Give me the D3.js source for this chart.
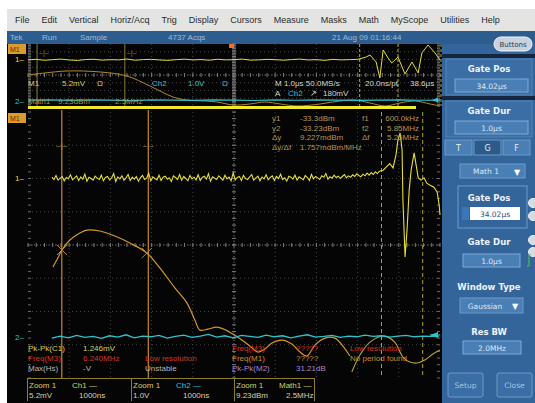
<!DOCTYPE html>
<html>
<head>
<meta charset="utf-8">
<script src="https://cdn.jsdelivr.net/npm/d3@7"></script>
<style>
  html, body { margin: 0; padding: 0; background: #ffffff; }
  svg { display: block; font-family: "Liberation Sans", Arial, sans-serif; }
</style>
</head>
<body>
<svg id="scope" width="535" height="403"></svg>
<script>
// ---------------- data ----------------
const menuItems = ["File", "Edit", "Vertical", "Horiz/Acq", "Trig", "Display", "Cursors",
                   "Measure", "Masks", "Math", "MyScope", "Utilities", "Help"];

// spectrum window: Ch1 trace (divisions), sampled every 0.125 MHz from 0 MHz
const ch1SpecStepMHz = 0.125;
const ch1Spec = [
  2.04,1.97,2.09,1.95,2.01,2.06,1.93,2.03,1.99,2.11,
  1.96,2.02,2.08,1.94,2.05,1.98,2.13,1.92,2.04,2.00,
  1.95,2.07,2.01,1.97,2.10,1.93,2.03,2.06,1.96,2.02,
  2.15,1.91,2.05,1.99,2.08,1.95,2.02,2.12,1.94,2.04,
  1.98,2.06,1.92,2.03,2.09,1.97,2.01,2.16,1.93,2.05,
  2.00,1.96,2.10,1.94,2.04,2.07,1.98,2.02,1.91,2.08,
  2.03,1.97,2.12,1.95,2.06,2.00,1.93,2.09,1.99,2.04,
  1.96,2.11,1.94,2.03,2.07,1.98,2.14,1.92,2.05,2.01,
  1.97,2.08,2.02,1.95,2.10,1.99,2.04,1.93,2.17,1.96,
  2.03,2.06,1.94,2.09,2.00,1.97,2.05,2.12,1.95,2.02,
  2.07,1.93,2.04,1.99,2.11,1.96,2.03,2.08,1.94,2.06,
  2.00,2.13,1.97,2.02,1.92,2.07,2.04,1.98,2.10,1.95,
  2.05,2.01,1.96,2.09,2.03,1.94,2.12,1.99,2.06,2.02,
  1.97,2.08,2.04,2.15,1.98,2.05,2.01,2.10,2.03,2.07,
  2.00,2.06,2.12,2.02,2.08,2.04,2.11,2.06,2.14,2.09,
  2.05,2.13,2.08,2.16,2.10,2.18,2.12,2.20,2.15,2.22
];
// Ch1 spectral features near the right edge: [MHz, div]
const ch1SpecTail = [
  [20.1,2.25],[20.3,2.35],[20.5,2.45],[20.7,2.32],[20.88,2.71],[21.0,3.16],[21.13,3.37],
  [21.25,2.86],[21.3,1.35],[21.43,-0.36],[21.55,0.45],[21.68,1.65],[21.8,2.26],[21.98,2.77],
  [22.1,2.41],[22.23,2.02],[22.4,1.95],[22.58,2.02],[22.75,1.86],[22.95,1.80],[23.18,1.74],
  [23.38,1.59],[23.5,1.2],[23.55,0.9]
];
// Math trace (orange) in the spectrum window: [MHz, div]
const mathSpec = [
  [0.06,-0.66],[0.36,-0.39],[0.61,-0.15],[1.09,0.15],[1.70,0.36],[2.12,0.45],[2.91,0.42],
  [3.82,0.27],[4.73,0.06],[5.76,-0.24],[6.55,-0.69],[7.46,-1.29],[8.19,-1.74],[8.68,-2.26],
  [8.98,-2.56],[9.47,-2.53],[10.01,-2.47],[10.56,-2.56],[10.98,-2.68],[11.53,-2.86],
  [12.01,-3.04],[12.50,-3.22],[12.92,-3.13],[13.35,-2.95],[13.96,-2.86],[14.56,-2.98],
  [15.05,-3.22],[15.47,-3.34],[15.96,-3.01],[16.57,-2.80],[17.17,-2.80],[17.66,-3.04],
  [18.08,-3.34]
];
// second lobe group of the math trace
const mathSpecLobe = [
  [18.2,-3.82],[18.69,-3.31],[19.3,-2.92],[20.2,-2.74],[20.8,-2.92],[21.3,-3.37],
  [21.72,-3.52],[22.15,-3.55],[22.63,-3.46],[23.12,-3.28],[23.54,-3.16]
];
// Ch2 in the spectrum window, every 0.5 MHz from 0 MHz
const ch2SpecStepMHz = 0.5;
const ch2Spec = [
  -2.80,-2.74,-2.79,-2.72,-2.78,-2.75,-2.81,-2.73,-2.77,-2.70,
  -2.79,-2.74,-2.76,-2.72,-2.80,-2.75,-2.71,-2.78,-2.74,-2.69,
  -2.77,-2.73,-2.79,-2.72,-2.75,-2.78,-2.71,-2.76,-2.73,-2.79,
  -2.74,-2.70,-2.77,-2.75,-2.72,-2.78,-2.74,-2.76,-2.71,-2.75,
  -2.73,-2.77,-2.74,-2.72,-2.76,-2.74,-2.75,-2.74
];

// overview window (time domain, divisions): Ch1 every 0.2 div from 0
const ch1TimeStep = 0.2;
const ch1Time = [
  1.95,2.02,1.90,1.98,2.05,1.94,1.88,1.99,2.03,1.92,1.98,1.95,2.06,1.91,1.99,2.02,1.94,1.89,1.98,2.04,
  1.95,1.99,1.91,2.03,1.95,1.98,2.05,1.92,1.95,2.02,1.98,1.91,1.99,2.05,1.94,1.98,1.89,2.02,1.95,1.98,2.02
];
const ch1TimeTail = [
  [8.2,2.3],[8.3,2.58],[8.45,1.68],[8.54,-0.39],[8.62,3.23],[8.74,2.19],[8.83,1.55],
  [8.98,2.32],[9.15,0.13],[9.32,1.68],[9.47,0.26],[9.56,2.84],[9.71,3.87],[9.88,2.84],[10,1.94]
];
const mathTime = [
  [0,0],[0.41,0.26],[0.95,0.52],[1.75,0.39],[2.40,-0.13],[2.96,-1.42],[3.52,-2.84],
  [3.86,-3.23],[4.30,-3.35],[4.59,-3.48],[4.98,-3.87],[5.39,-3.74],[5.75,-3.48],
  [6.12,-3.74],[6.55,-4.0],[7.09,-3.74],[7.57,-3.35],[7.94,-3.23],[8.30,-3.61],
  [8.67,-4.0],[9.03,-3.61],[9.39,-3.35],[9.76,-3.74],[10,-4.0]
];
const ch2TimeStep = 0.5;
const ch2Time = [-3.25,-3.2,-3.28,-3.22,-3.25,-3.3,-3.2,-3.24,-3.27,-3.21,-3.25,
                 -3.29,-3.22,-3.26,-3.2,-3.25,-3.28,-3.23,-3.21,-3.26,-3.24];

// cursors and gate
const cursorFreqMHz = [0.6, 5.85];
const gateMarksMHz = [20.0, 22.5];
const timeMarks = [0.22, 2.35];
const timeGate = [8.05, 8.98];
const cursorRows = [
  ["y1", "-33.3dBm", "f1", "600.0kHz"],
  ["y2", "-33.23dBm", "f2", "5.85MHz"],
  ["\u0394y", "9.227mdBm", "\u0394f", "5.25MHz"],
  ["\u0394y/\u0394f", "1.757mdBm/MHz", "", ""]
];
const measLeft = [
  ["Pk-Pk(C1)", "1.246mV", ""],
  ["Freq(M3)", "6.240MHz", "Low resolution"],
  ["Max(Hs)", "-V", "Unstable"]
];
const measRight = [
  ["Freq(M3)", "?????", "Low resolution"],
  ["Freq(M1)", "?????", "No period found"],
  ["Pk-Pk(M2)", "31.21dB", ""]
];
const zoomBoxes = [
  ["Zoom 1", "Ch1 \u2014", "5.2mV", "1000ns"],
  ["Zoom 1", "Ch2 \u2014", "1.0V", "1000ns"],
  ["Zoom 1", "Math1 \u2014", "9.23dBm", "2.5MHz"]
];

// ---------------- colours ----------------
const C = {
  yellow: "#e6dc3a", orange: "#d6962e", cyan: "#2ec4cc", red: "#d8331f",
  amber: "#c98b22", purple: "#a487d6", grey: "#b8b8b8", grid: "#444444",
  text: "#d9cf5a", dimText: "#b39455"
};

const svg = d3.select("#scope");

// ---------------- frame ----------------
svg.append("rect").attr("width", 535).attr("height", 403).attr("fill", "#ffffff");

// menu bar
svg.append("rect").attr("x", 7).attr("y", 9).attr("width", 528).attr("height", 22).attr("fill", "#e4e4e2");
{
  let mx = 15;
  const g = svg.append("g").attr("font-size", 9).attr("fill", "#2a2a2a");
  menuItems.forEach(m => {
    const t = g.append("text").attr("x", mx).attr("y", 23).text(m);
    mx += t.node().getComputedTextLength() + 12;
  });
}

// status bar
svg.append("rect").attr("x", 7).attr("y", 31).attr("width", 528).attr("height", 13).attr("fill", "#2d5d8f");
const sb = svg.append("g").attr("font-size", 8).attr("fill", "#9fbbd8");
sb.append("text").attr("x", 10).attr("y", 40).text("Tek");
sb.append("text").attr("x", 42).attr("y", 40).text("Run");
sb.append("text").attr("x", 80).attr("y", 40).text("Sample");
sb.append("text").attr("x", 168).attr("y", 40).text("4737 Acqs");
sb.append("text").attr("x", 332).attr("y", 40).text("21 Aug 09 01:16:44");

// black display area
svg.append("rect").attr("x", 7).attr("y", 44).attr("width", 435).attr("height", 359).attr("fill", "#050505");

// ---------------- scales ----------------
const xTime = d3.scaleLinear().domain([0, 10]).range([28, 440]);
const yTime = d3.scaleLinear().domain([-4, 4]).range([106, 44]);
const xFreq = d3.scaleLinear().domain([-1.45, 23.55]).range([28, 440]); // 2.5 MHz/div
const yDiv = d3.scaleLinear().domain([-4, 4]).range([378, 112]);
const xDiv = d3.scaleLinear().domain([0, 10]).range([28, 440]);

// graticule
function graticule(g, xs, ys) {
  const [x0, x1] = xs.range(), [y0, y1] = ys.range();
  const yTop = Math.min(y0, y1), yBot = Math.max(y0, y1);
  d3.range(1, 10).forEach(i => {
    g.append("line").attr("x1", xs(i)).attr("x2", xs(i)).attr("y1", yTop).attr("y2", yBot)
      .attr("stroke", C.grid).attr("stroke-width", 1).attr("stroke-dasharray", "1,3");
  });
  d3.range(-3, 4).forEach(j => {
    g.append("line").attr("x1", x0).attr("x2", x1).attr("y1", ys(j)).attr("y2", ys(j))
      .attr("stroke", C.grid).attr("stroke-width", 1).attr("stroke-dasharray", "1,3");
  });
  // centre cross with minor ticks
  g.append("line").attr("x1", xs(5)).attr("x2", xs(5)).attr("y1", yTop).attr("y2", yBot)
    .attr("stroke", "#6a6a6a").attr("stroke-dasharray", "1,2");
  g.append("line").attr("x1", x0).attr("x2", x1).attr("y1", ys(0)).attr("y2", ys(0))
    .attr("stroke", "#6a6a6a").attr("stroke-dasharray", "1,2");
  d3.range(0, 10.01, 0.2).forEach(v => {
    g.append("line").attr("x1", xs(v)).attr("x2", xs(v)).attr("y1", ys(0) - 2).attr("y2", ys(0) + 2)
      .attr("stroke", "#7a7a7a");
  });
  d3.range(-4, 4.01, 0.2).forEach(v => {
    g.append("line").attr("x1", xs(5) - 2).attr("x2", xs(5) + 2).attr("y1", ys(v)).attr("y2", ys(v))
      .attr("stroke", "#7a7a7a");
    g.append("line").attr("x1", x0).attr("x2", x0 + 3).attr("y1", ys(v)).attr("y2", ys(v))
      .attr("stroke", "#6a6a6a");
    g.append("line").attr("x1", x1 - 3).attr("x2", x1).attr("y1", ys(v)).attr("y2", ys(v))
      .attr("stroke", "#6a6a6a");
  });
}

// ---------------- overview (time) window ----------------
const ovw = svg.append("g");
graticule(ovw, xTime, yTime);

timeMarks.forEach(t => {
  ovw.append("line").attr("x1", xTime(t)).attr("x2", xTime(t)).attr("y1", 44).attr("y2", 106)
    .attr("stroke", "#8a7a2c").attr("stroke-width", 1);
  ovw.append("text").attr("x", xTime(t) + 2).attr("y", 55).attr("font-size", 7)
    .attr("fill", "#8a7a2c").text("\u2013|\u2013");
});
timeGate.forEach(t => {
  ovw.append("line").attr("x1", xTime(t)).attr("x2", xTime(t)).attr("y1", 44).attr("y2", 106)
    .attr("stroke", "#b8ae32").attr("stroke-dasharray", "3,2");
});
ovw.append("line").attr("x1", 441).attr("x2", 441).attr("y1", 44).attr("y2", 106)
  .attr("stroke", "#b8ae32").attr("stroke-dasharray", "3,2");
// trigger position marker
ovw.append("rect").attr("x", xTime(4.88)).attr("y", 44).attr("width", 5).attr("height", 4).attr("fill", "#ff6a2a");

const lineT = d3.line().x(d => xTime(d[0])).y(d => yTime(d[1]));
ovw.append("path")
  .datum(ch1Time.map((v, i) => [i * ch1TimeStep, v]).concat(ch1TimeTail))
  .attr("d", lineT).attr("fill", "none").attr("stroke", C.yellow).attr("stroke-width", 1);
ovw.append("path").datum(mathTime)
  .attr("d", d3.line().x(d => xTime(d[0])).y(d => yTime(d[1])).curve(d3.curveCatmullRom))
  .attr("fill", "none").attr("stroke", "#b9862c").attr("stroke-width", 1);
ovw.append("path")
  .datum(ch2Time.map((v, i) => [i * ch2TimeStep, v]))
  .attr("d", lineT).attr("fill", "none")
  .attr("stroke", C.cyan).attr("stroke-width", 1.2);

// gate / zoom window bar
ovw.append("rect").attr("x", 28).attr("y", 106).attr("width", 388).attr("height", 3).attr("fill", "#f2e82c");

// channel markers
ovw.append("text").attr("x", 15).attr("y", 62).attr("font-size", 8).attr("fill", C.yellow).text("1\u2013");
ovw.append("text").attr("x", 15).attr("y", 104).attr("font-size", 8).attr("fill", C.cyan).text("2\u2013");
ovw.append("path").attr("d", "M432,100 l6,-2.5 v5 z").attr("fill", C.cyan);

// readouts in the overview window
const tr = ovw.append("g").attr("font-size", 8);
tr.append("text").attr("x", 28).attr("y", 86).attr("fill", C.text).text("M1");
tr.append("text").attr("x", 62).attr("y", 86).attr("fill", C.text).text("5.2mV");
tr.append("text").attr("x", 97).attr("y", 86).attr("fill", C.text).text("\u03a9");
tr.append("text").attr("x", 152).attr("y", 86).attr("fill", C.cyan).text("Ch2");
tr.append("text").attr("x", 188).attr("y", 86).attr("fill", C.cyan).text("1.0V");
tr.append("text").attr("x", 222).attr("y", 86).attr("fill", C.cyan).text("\u03a9");
tr.append("text").attr("x", 275).attr("y", 86).attr("fill", "#d8d8c8").text("M 1.0\u03bcs 50.0MS/s");
tr.append("text").attr("x", 365).attr("y", 86).attr("fill", "#d8d8c8").text("20.0ns/pt");
tr.append("text").attr("x", 410).attr("y", 86).attr("fill", "#d8d8c8").text("38.6\u03bcs");
tr.append("text").attr("x", 275).attr("y", 96).attr("fill", "#d8d8c8").text("A");
tr.append("text").attr("x", 288).attr("y", 96).attr("fill", C.cyan).text("Ch2");
tr.append("text").attr("x", 310).attr("y", 96).attr("fill", "#d8d8c8").text("\u2197");
tr.append("text").attr("x", 323).attr("y", 96).attr("fill", "#d8d8c8").text("180mV");
tr.append("text").attr("x", 28).attr("y", 104).attr("fill", "#a89440").text("Math1");
tr.append("text").attr("x", 58).attr("y", 104).attr("fill", "#a89440").text("9.23dBm");
tr.append("text").attr("x", 115).attr("y", 104).attr("fill", "#a89440").text("2.5MHz");

// M1 badge
function badge(y) {
  svg.append("rect").attr("x", 8).attr("y", y).attr("width", 18).attr("height", 10).attr("fill", "#d99a2e");
  svg.append("text").attr("x", 10).attr("y", y + 8).attr("font-size", 7).attr("fill", "#5a2a00").text("M1");
}
badge(44);

// ---------------- spectrum (zoom) window ----------------
const spec = svg.append("g");
graticule(spec, xDiv, yDiv);
badge(113);

// gate marks
gateMarksMHz.forEach(f => {
  spec.append("line").attr("x1", xFreq(f)).attr("x2", xFreq(f)).attr("y1", 112).attr("y2", 378)
    .attr("stroke", "#a9a232").attr("stroke-dasharray", "4,3");
});
// frequency cursors
cursorFreqMHz.forEach(f => {
  spec.append("line").attr("x1", xFreq(f)).attr("x2", xFreq(f)).attr("y1", 110).attr("y2", 378)
    .attr("stroke", "#c48a2a").attr("stroke-width", 1.2);
  spec.append("text").attr("x", xFreq(f)).attr("y", 148).attr("text-anchor", "middle")
    .attr("font-size", 8).attr("fill", "#a88a44").text("\u2013|\u2013");
});

const lineF = d3.line().x(d => xFreq(d[0])).y(d => yDiv(d[1]));
const lineFSmooth = d3.line().x(d => xFreq(d[0])).y(d => yDiv(d[1])).curve(d3.curveCatmullRom);
spec.append("path").datum(mathSpec)
  .attr("d", lineFSmooth).attr("fill", "none")
  .attr("stroke", C.orange).attr("stroke-width", 1.2);
spec.append("path").datum(mathSpecLobe)
  .attr("d", lineFSmooth)
  .attr("fill", "none").attr("stroke", "#b8a236").attr("stroke-width", 1.1);

// cursor crossings on the math trace
[mathSpec[2], mathSpec[9]].forEach(d => {
  const cx = xFreq(d[0]), cy = yDiv(d[1]);
  spec.append("path").attr("d", `M${cx - 5},${cy - 5}L${cx + 5},${cy + 5}M${cx - 5},${cy + 5}L${cx + 5},${cy - 5}`)
    .attr("stroke", "#c48a2a").attr("stroke-width", 1);
});

spec.append("path")
  .datum(ch2Spec.map((v, i) => [i * ch2SpecStepMHz, v]))
  .attr("d", lineF)
  .attr("fill", "none").attr("stroke", C.cyan).attr("stroke-width", 1.3);
spec.append("path").attr("d", "M430,335 l8,-3 v6 z").attr("fill", C.cyan);
spec.append("line").attr("x1", 430).attr("x2", 440).attr("y1", 335).attr("y2", 335).attr("stroke", C.cyan);

spec.append("path")
  .datum(ch1Spec.map((v, i) => [i * ch1SpecStepMHz, v]).concat(ch1SpecTail))
  .attr("d", lineF)
  .attr("fill", "none").attr("stroke", C.yellow).attr("stroke-width", 1.1);

spec.append("text").attr("x", 15).attr("y", 181).attr("font-size", 8).attr("fill", C.yellow).text("1\u2013");
spec.append("text").attr("x", 15).attr("y", 340).attr("font-size", 8).attr("fill", C.cyan).text("2\u2013");

// cursor readout
const cr = spec.append("g").attr("font-size", 8).attr("fill", C.dimText);
cursorRows.forEach((r, i) => {
  const y = 121 + i * 9.5;
  cr.append("text").attr("x", 272).attr("y", y).text(r[0]);
  cr.append("text").attr("x", 300).attr("y", y).text(r[1]);
  cr.append("text").attr("x", 362).attr("y", y).text(r[2]);
  cr.append("text").attr("x", 419).attr("y", y).attr("text-anchor", "end").text(r[3]);
});

// measurement readouts
const leftCol = [C.text, C.red, C.grey];
const rightCol = [C.red, C.amber, C.purple];
const ms = spec.append("g").attr("font-size", 8);
measLeft.forEach((r, i) => {
  const y = 351 + i * 10;
  ms.append("text").attr("x", 28).attr("y", y).attr("fill", leftCol[i]).text(r[0]);
  ms.append("text").attr("x", 83).attr("y", y).attr("fill", leftCol[i]).text(r[1]);
  ms.append("text").attr("x", 145).attr("y", y).attr("fill", leftCol[i]).text(r[2]);
});
measRight.forEach((r, i) => {
  const y = 351 + i * 10;
  ms.append("text").attr("x", 232).attr("y", y).attr("fill", rightCol[i]).text(r[0]);
  ms.append("text").attr("x", 296).attr("y", y).attr("fill", rightCol[i]).text(r[1]);
  ms.append("text").attr("x", 350).attr("y", y).attr("fill", rightCol[i]).text(r[2]);
});

// zoom boxes along the bottom
const zb = svg.append("g").attr("font-size", 8);
const boxX = [27, 131, 234, 314];
zb.append("line").attr("x1", 27).attr("x2", 314).attr("y1", 378.5).attr("y2", 378.5).attr("stroke", "#8d7f2c");
zoomBoxes.forEach((b, i) => {
  const x = boxX[i];
  zb.append("line").attr("x1", x + 0.5).attr("x2", x + 0.5).attr("y1", 378).attr("y2", 401).attr("stroke", "#8d7f2c");
  zb.append("text").attr("x", x + 2).attr("y", 388).attr("fill", C.text).text(b[0]);
  zb.append("text").attr("x", x + 45).attr("y", 388)
    .attr("fill", i === 1 ? C.cyan : C.text).text(b[1]);
  zb.append("text").attr("x", x + 2).attr("y", 398).attr("fill", "#d8d0a0").text(b[2]);
  zb.append("text").attr("x", x + 52).attr("y", 398).attr("fill", "#d8d0a0").text(b[3]);
});
zb.append("line").attr("x1", 314.5).attr("x2", 314.5).attr("y1", 378).attr("y2", 401).attr("stroke", "#8d7f2c");

// ---------------- side panel ----------------
const sp = svg.append("g").attr("font-family", "\"DejaVu Sans\", Arial, sans-serif");
sp.append("rect").attr("x", 442).attr("y", 44).attr("width", 93).attr("height", 359).attr("fill", "#33649a");
sp.append("rect").attr("x", 442).attr("y", 54).attr("width", 93).attr("height", 4).attr("fill", "#16263c");
sp.append("rect").attr("x", 442).attr("y", 96).attr("width", 93).attr("height", 4).attr("fill", "#16263c");

// "Buttons" pill
sp.append("rect").attr("x", 494).attr("y", 37).attr("width", 38).attr("height", 14).attr("rx", 7)
  .attr("fill", "#c9d2dc").attr("stroke", "#f4f6f8");
sp.append("text").attr("x", 513).attr("y", 47).attr("text-anchor", "middle").attr("font-size", 7)
  .attr("fill", "#2a3a50").text("Buttons");

function header(y, label) {
  sp.append("text").attr("x", 489).attr("y", y).attr("text-anchor", "middle")
    .attr("font-size", 8.5).attr("font-weight", "bold").attr("fill", "#eef3fa").text(label);
}
function valueBox(x, y, w, label) {
  sp.append("rect").attr("x", x).attr("y", y).attr("width", w).attr("height", 13)
    .attr("fill", "#4a7fb6").attr("stroke", "#7eaad6");
  sp.append("text").attr("x", x + w / 2).attr("y", y + 9.5).attr("text-anchor", "middle")
    .attr("font-size", 7.5).attr("fill", "#dce8f5").text(label);
}
sp.append("rect").attr("x", 446).attr("y", 59).attr("width", 86).attr("height", 36)
  .attr("fill", "#3a6ea4").attr("stroke", "#5286bb");
header(72, "Gate Pos");
valueBox(455, 79, 73, "34.02\u03bcs");
sp.append("rect").attr("x", 446).attr("y", 101).attr("width", 86).attr("height", 36)
  .attr("fill", "#3a6ea4").attr("stroke", "#5286bb");
header(114, "Gate Dur");
valueBox(455, 121, 73, "1.0\u03bcs");

// tabs
["T", "G", "F"].forEach((t, i) => {
  const x = 445 + i * 29;
  sp.append("rect").attr("x", x).attr("y", 140).attr("width", 27).attr("height", 15)
    .attr("fill", i === 1 ? "#2c5a89" : "#4a7fb6").attr("stroke", "#6d9bcb");
  sp.append("text").attr("x", x + 13.5).attr("y", 151).attr("text-anchor", "middle")
    .attr("font-size", 8).attr("fill", "#e8eef6").text(t);
});

// source dropdown
sp.append("rect").attr("x", 460).attr("y", 164).attr("width", 65).attr("height", 14)
  .attr("fill", "#4a7fb6").attr("stroke", "#6d9bcb");
sp.append("text").attr("x", 486).attr("y", 174).attr("text-anchor", "middle")
  .attr("font-size", 7.5).attr("fill", "#dce8f5").text("Math 1");
sp.append("text").attr("x", 517).attr("y", 175).attr("text-anchor", "middle")
  .attr("font-size", 8).attr("fill", "#ffffff").text("\u25bc");

// gate position control
sp.append("rect").attr("x", 458).attr("y", 186).attr("width", 69).attr("height", 42)
  .attr("fill", "none").attr("stroke", "#6d9bcb");
header(201, "Gate Pos");
sp.append("rect").attr("x", 462).attr("y", 207).attr("width", 7).attr("height", 13).attr("fill", "#3b77b8");
sp.append("rect").attr("x", 470).attr("y", 207).attr("width", 50).attr("height", 13).attr("fill", "#ffffff");
sp.append("text").attr("x", 495).attr("y", 216.5).attr("text-anchor", "middle")
  .attr("font-size", 7.5).attr("fill", "#2d4f86").text("34.02\u03bcs");

// knobs
[203, 216, 240, 252].forEach(y => {
  sp.append("circle").attr("cx", 533).attr("cy", y).attr("r", 4.5)
    .attr("fill", "#d4dbe2").attr("stroke", "#f2f4f6");
});
sp.append("path").attr("d", "M527,266 h2 v-11 h2").attr("fill", "none").attr("stroke", "#46d04a");

header(245, "Gate Dur");
valueBox(463, 254, 57, "1.0\u03bcs");

header(290, "Window Type");
sp.append("rect").attr("x", 460).attr("y", 298).attr("width", 63).attr("height", 15)
  .attr("fill", "#4a7fb6").attr("stroke", "#6d9bcb");
sp.append("text").attr("x", 485).attr("y", 308.5).attr("text-anchor", "middle")
  .attr("font-size", 7.5).attr("fill", "#dce8f5").text("Gaussian");
sp.append("text").attr("x", 515).attr("y", 309).attr("text-anchor", "middle")
  .attr("font-size", 8).attr("fill", "#ffffff").text("\u25bc");

header(335, "Res BW");
valueBox(463, 341, 58, "2.0MHz");

// bottom buttons
[["Setup", 448], ["Close", 497]].forEach(([t, x]) => {
  sp.append("rect").attr("x", x).attr("y", 373).attr("width", 35).attr("height", 24).attr("rx", 2)
    .attr("fill", "#3a6ea4").attr("stroke", "#6d9bcb");
  sp.append("text").attr("x", x + 17.5).attr("y", 388).attr("text-anchor", "middle")
    .attr("font-size", 7.5).attr("fill", "#a9c4e0").text(t);
});
</script>
</body>
</html>
